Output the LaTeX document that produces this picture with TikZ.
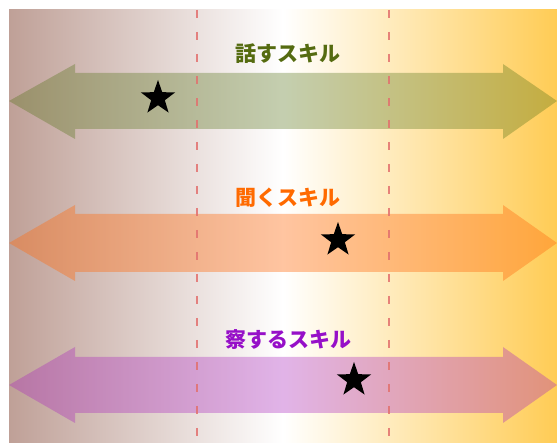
\documentclass[tikz,border=0pt]{standalone}
\usepackage{fontspec}
\usetikzlibrary{shapes.geometric}
\newfontfamily\cjk{Noto Sans CJK JP}[BoldFont={Noto Sans CJK JP Black}]

\definecolor{bgleft}{RGB}{191,160,151}
\definecolor{bgright}{RGB}{255,204,85}
\definecolor{hanasuarrow}{RGB}{84,114,23}
\definecolor{kikuarrow}{RGB}{255,110,20}
\definecolor{sassuruarrow}{RGB}{170,40,190}
\definecolor{hanasutxt}{RGB}{85,107,16}
\definecolor{kikutxt}{RGB}{255,106,0}
\definecolor{sassurutxt}{RGB}{150,15,200}
\definecolor{sepline}{RGB}{226,112,110}

\tikzset{
  skilltxt/.style={font=\cjk\bfseries\fontsize{21}{23}\selectfont, inner sep=0pt},
  mark star/.style={star, star points=5, star point ratio=2.5, fill=black, minimum size=36pt, inner sep=0pt},
  sepdash/.style={draw=sepline, draw opacity=0.85, line width=1.6pt, dash pattern=on 8pt off 14pt}
}

\begin{document}
\begin{tikzpicture}[x=1pt,y=-1pt]
\useasboundingbox (0,0) rectangle (557,443);

\shade[left color=bgleft, right color=bgright, middle color=white] (9,10) rectangle (557,443);

\fill[hanasuarrow, fill opacity=0.34] (9,101) -- (75,64) -- (75,73) -- (503,73) -- (503,64) -- (557,101)
  -- (503,139) -- (503,129) -- (75,129) -- (75,139) -- cycle;
\fill[kikuarrow, fill opacity=0.4] (9,243) -- (75,205) -- (75,214) -- (503,214) -- (503,205) -- (557,243)
  -- (503,281) -- (503,272) -- (75,272) -- (75,281) -- cycle;
\fill[sassuruarrow, fill opacity=0.35] (9,385) -- (75,347) -- (75,357) -- (503,357) -- (503,347) -- (557,385)
  -- (503,423) -- (503,413) -- (75,413) -- (75,423) -- cycle;

\coordinate (sep1top) at (197,10);
\coordinate (sep1bot) at (197,443);
\coordinate (sep2top) at (389,10);
\coordinate (sep2bot) at (389,443);
\draw[sepdash] (sep1top) -- (sep1bot);
\draw[sepdash] (sep2top) -- (sep2bot);

\node[skilltxt, text=hanasutxt](hanasu) at (288,54) {話すスキル};
\node[skilltxt, text=kikutxt](kiku) at (288,198) {聞くスキル};
\node[skilltxt, text=sassurutxt](sassuru) at (288,340) {察するスキル};

\node[mark star](star1) at (158,98) {};
\node[mark star](star2) at (338,240) {};
\node[mark star](star3) at (354,380) {};

\end{tikzpicture}
\end{document}
